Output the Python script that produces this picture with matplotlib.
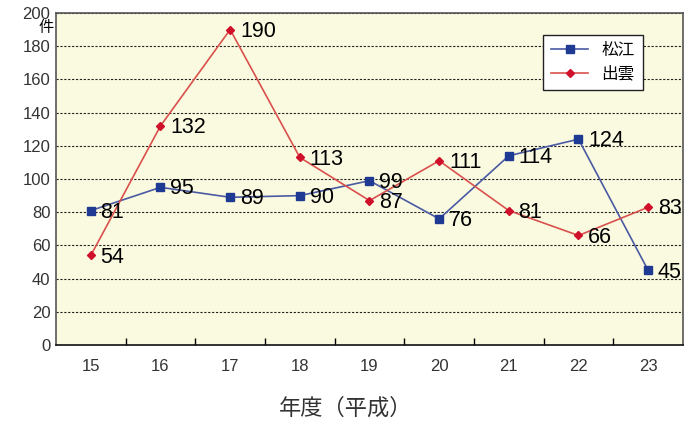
import numpy as np
import matplotlib.pyplot as plt
from matplotlib.ticker import MultipleLocator, FixedLocator

plt.rcParams['font.family'] = ['Liberation Sans', 'Noto Sans CJK JP', 'DejaVu Sans']

years = ['15', '16', '17', '18', '19', '20', '21', '22', '23']
matsue = [81, 95, 89, 90, 99, 76, 114, 124, 45]
izumo = [54, 132, 190, 113, 87, 111, 81, 66, 83]

fig = plt.figure(figsize=(6.88, 4.26), dpi=100)
ax = fig.add_axes([0.0814, 0.19, 0.9113, 0.7795])
ax.set_facecolor('#fafae0')

x = np.arange(len(years))
ax.plot(x, matsue, color='#4a5aa3', lw=1.2, marker='s', ms=5.5,
        mfc='#1f3a93', mec='#1f3a93', label='松江', zorder=4)
ax.plot(x, izumo, color='#d9504c', lw=1.2, marker='D', ms=4,
        mfc='#d0102a', mec='#d0102a', label='出雲', zorder=4)

for xi, v in zip(x, matsue):
    ax.text(xi + 0.14, v - 1, str(v), fontsize=15.5, va='center', ha='left', zorder=5)
for xi, v in zip(x, izumo):
    ax.text(xi + 0.14, v - 1, str(v), fontsize=15.5, va='center', ha='left', zorder=5)

ax.set_xlim(-0.5, 8.5)
ax.set_ylim(0, 200)
ax.yaxis.set_major_locator(MultipleLocator(20))
ax.set_xticks(x)
ax.set_xticklabels(years)
ax.xaxis.set_minor_locator(FixedLocator(np.arange(0.5, 8.5, 1)))
ax.tick_params(axis='x', which='major', length=0, pad=10, labelsize=12, labelcolor='#333333')
ax.tick_params(axis='x', which='minor', direction='in', length=5, width=1)
ax.tick_params(axis='y', length=0, pad=4, labelsize=12, labelcolor='#333333')

ax.grid(axis='y', color='#222222', ls=(0, (2, 1.5)), lw=0.8)
ax.set_axisbelow(True)
for s in ax.spines.values():
    s.set_color('#555555')
    s.set_linewidth(1.2)
ax.spines['bottom'].set_color('#111111')

ax.text(-0.016, 0.955, '件', transform=ax.transAxes, fontsize=11, ha='center', va='center')

leg = ax.legend(loc='upper right', bbox_to_anchor=(0.936, 0.934), borderaxespad=0,
                fontsize=12, frameon=True, fancybox=False, edgecolor='#222222',
                framealpha=1, handlelength=2.2, borderpad=0.5, labelspacing=0.45)
leg.get_frame().set_linewidth(1.0)

fig.text(0.503, 0.04, '年度（平成）', fontsize=16, ha='center', va='center', color='#333333')

fig.savefig('out.png', dpi=100)
